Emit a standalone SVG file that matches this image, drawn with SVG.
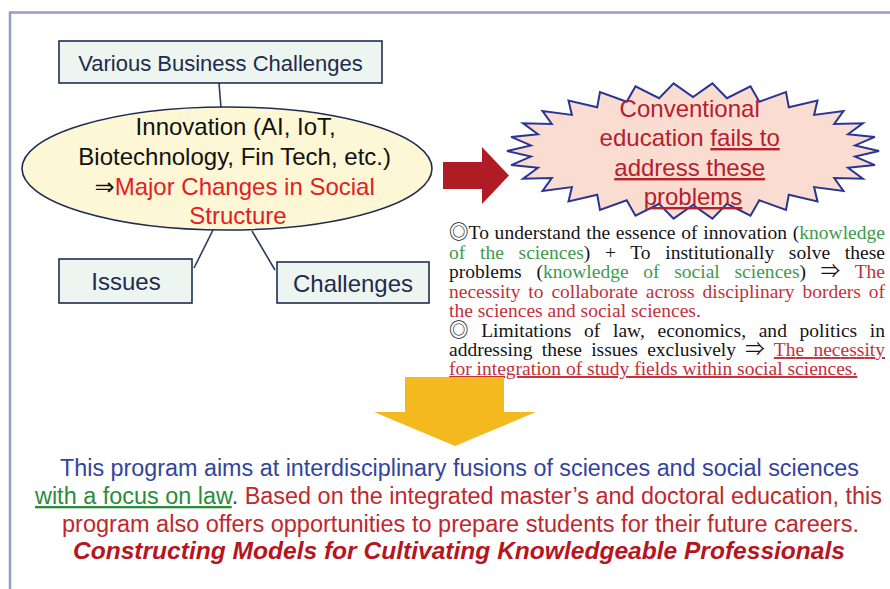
<svg xmlns="http://www.w3.org/2000/svg" width="890" height="589" viewBox="0 0 890 589">
<style>
.frame{stroke:#959bcc;stroke-width:2.5;fill:none}
.box{fill:#ecf5f0;stroke:#1f2d50;stroke-width:1.6}
.btxt{font-family:"Liberation Sans",Arial,sans-serif;fill:#1f2b4d;text-anchor:middle}
.conn{stroke:#2c3a5c;stroke-width:1.6;fill:none}
.sans{font-family:"Liberation Sans",Arial,"DejaVu Sans",sans-serif}
.serif{font-family:"Liberation Serif","Times New Roman","Noto Sans CJK JP",serif;font-size:19.5px}
.blk{fill:#141414}
.grn{fill:#3d9a4b}
.red{fill:#c3303a}
.ul{text-decoration:underline}
</style>
<path class="frame" d="M9 12.5H890M10 12V589"/>
<g id="connectors">
<line class="conn" x1="219" y1="83" x2="221" y2="108"/>
<line class="conn" x1="213" y1="230" x2="194" y2="268"/>
<line class="conn" x1="252" y1="231" x2="275" y2="270"/>
</g>
<g id="node-business">
<rect class="box" x="59" y="41" width="323" height="42"/>
<text class="btxt" x="220.5" y="71" font-size="22">Various Business Challenges</text>
</g>
<g id="node-innovation">
<ellipse cx="227" cy="168.5" rx="205" ry="61.5" fill="#fdf7d6" stroke="#1f2d50" stroke-width="1.6"/>
<text class="sans" font-size="24" text-anchor="middle" fill="#111">
<tspan x="239" y="135">Innovation (AI, IoT,</tspan>
<tspan x="238" y="165">Biotechnology, Fin Tech, etc.)</tspan>
<tspan x="238" y="195">⇒<tspan fill="#e3201e">Major Changes in Social</tspan></tspan>
<tspan x="238" y="224" fill="#e3201e">Structure</tspan>
</text>
</g>
<g id="node-issues">
<rect class="box" x="59" y="259" width="133" height="44"/>
<text class="btxt" x="126" y="290" font-size="24">Issues</text>
</g>
<g id="node-challenges">
<rect class="box" x="277" y="262" width="152" height="41"/>
<text class="btxt" x="353" y="292" font-size="24">Challenges</text>
</g>
<g id="arrow-red">
<polygon points="443,162 482,162 482,147 509,175.5 482,204 482,189 443,189" fill="#b01c24"/>
</g>
<g id="node-conventional">
<polygon fill="#fadcd0" stroke="#283593" stroke-width="2" stroke-linejoin="miter" points="879,151 855.1,145.4 874.9,136.9 848,134.3 862.9,123.3 834.2,124 843.5,111 814.1,114.9 817.5,100.5 788.8,107.3 786,92.1 759.3,101.7 750.5,86.3 726.9,98.2 712.4,83.4 693,97 673.6,83.4 659.1,98.2 635.5,86.3 626.7,101.7 600,92.1 597.2,107.3 568.5,100.5 571.9,114.9 542.5,111 551.8,124 523.1,123.3 538,134.3 511.1,136.9 530.9,145.4 507,151 530.9,156.6 511.1,165.1 538,167.7 523.1,178.7 551.8,178 542.5,191 571.9,187.1 568.5,201.5 597.2,194.7 600,209.9 626.7,200.3 635.5,215.7 659.1,203.8 673.6,218.6 693,205 712.4,218.6 726.9,203.8 750.5,215.7 759.3,200.3 786,209.9 788.8,194.7 817.5,201.5 814.1,187.1 843.5,191 834.2,178 862.9,178.7 848,167.7 874.9,165.1 855.1,156.6"/>
<text class="sans" font-size="24" text-anchor="middle" fill="#b5202e">
<tspan x="693" y="117">Conventional</tspan>
<tspan x="693" y="146">education <tspan class="ul">fails to</tspan></tspan>
<tspan x="693" y="176" class="ul">address these</tspan>
<tspan x="693" y="205" class="ul">problems</tspan>
</text>
</g>
<g id="explanation">
<text class="serif blk" x="449" y="239" word-spacing="0.8" textLength="436" lengthAdjust="spacing">◎To understand the essence of innovation (<tspan class="grn">knowledge</tspan></text>
<text class="serif grn" x="449" y="258.5" word-spacing="9.7" textLength="436" lengthAdjust="spacing">of the sciences<tspan class="blk">) + To institutionally solve these</tspan></text>
<text class="serif blk" x="449" y="278" word-spacing="9.8" textLength="436" lengthAdjust="spacing">problems (<tspan class="grn">knowledge of social sciences</tspan>) ⇒ <tspan class="red">The</tspan></text>
<text class="serif red" x="449" y="297.5" word-spacing="3" textLength="436" lengthAdjust="spacing">necessity to collaborate across disciplinary borders of</text>
<text class="serif red" x="449" y="317">the sciences and social sciences.</text>
<text class="serif blk" x="449" y="336.5" word-spacing="7.7" textLength="436" lengthAdjust="spacing">◎ Limitations of law, economics, and politics in</text>
<text class="serif blk" x="449" y="356" word-spacing="4.4" textLength="436" lengthAdjust="spacing">addressing these issues exclusively ⇒ <tspan class="red ul">The necessity</tspan></text>
<text class="serif red ul" x="449" y="375">for integration of study fields within social sciences.</text>
</g>
<g id="arrow-yellow">
<polygon points="405,377 504,377 504,412 536,412 455,446 374,412 405,412" fill="#f4b91e"/>
</g>
<g id="conclusion">
<text class="sans" font-size="23" text-anchor="middle" x="459.5" y="476" fill="#33449c" textLength="799" lengthAdjust="spacingAndGlyphs">This program aims at interdisciplinary fusions of sciences and social sciences</text>
<text class="sans" font-size="23" text-anchor="middle" x="458.5" y="504" fill="#c0272d" textLength="847" lengthAdjust="spacingAndGlyphs"><tspan fill="#2a8c3a" class="ul">with a focus on law</tspan><tspan fill="#33449c">.</tspan> Based on the integrated master’s and doctoral education, this</text>
<text class="sans" font-size="23" text-anchor="middle" x="460.5" y="532" fill="#c0272d" textLength="797" lengthAdjust="spacingAndGlyphs">program also offers opportunities to prepare students for their future careers.</text>
<text class="sans" font-size="23" font-weight="bold" font-style="italic" text-anchor="middle" x="459" y="559" fill="#b5161f" textLength="772" lengthAdjust="spacingAndGlyphs">Constructing Models for Cultivating Knowledgeable Professionals</text>
</g>
</svg>
